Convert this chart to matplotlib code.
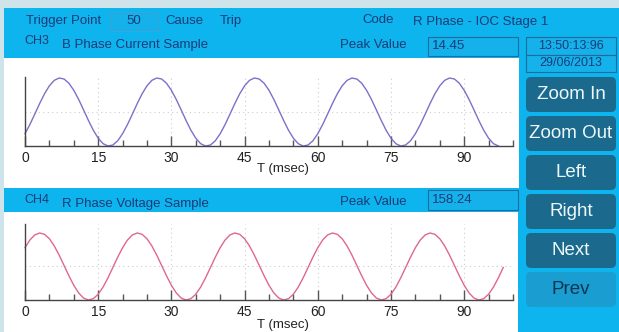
import numpy as np
import matplotlib
matplotlib.use("Agg")
import matplotlib.pyplot as plt
from matplotlib.patches import Rectangle, FancyBboxPatch
from matplotlib.ticker import MultipleLocator

plt.rcParams['font.family'] = ['Liberation Sans', 'DejaVu Sans']

# --- screen texts ---
trigger_point = "50"
cause = "Trip"
code = "R Phase - IOC Stage 1"
time_stamp = "13:50:13:96"
date_stamp = "29/06/2013"
buttons = ["Zoom In", "Zoom Out", "Left", "Right", "Next", "Prev"]

ch3_name = "CH3"
ch3_title = "B Phase Current Sample"
ch3_peak = "14.45"
ch4_name = "CH4"
ch4_title = "R Phase Voltage Sample"
ch4_peak = "158.24"

x_ticks = [0, 15, 30, 45, 60, 75, 90]
sample_ms = 1.0  # one sample per msec

# samples (1 ms apart)
current = [
    -9.20, -5.32, -0.91, 3.59, 7.74, 11.13, 13.44, 14.42, 14.00, 12.20,
    9.20, 5.32, 0.91, -3.59, -7.74, -11.13, -13.44, -14.42, -14.00, -12.20,
    -9.20, -5.32, -0.91, 3.59, 7.74, 11.13, 13.44, 14.42, 14.00, 12.20,
    9.20, 5.32, 0.91, -3.59, -7.74, -11.13, -13.44, -14.42, -14.00, -12.20,
    -9.20, -5.32, -0.91, 3.59, 7.74, 11.13, 13.44, 14.42, 14.00, 12.20,
    9.20, 5.32, 0.91, -3.59, -7.74, -11.13, -13.44, -14.42, -14.00, -12.20,
    -9.20, -5.32, -0.91, 3.59, 7.74, 11.13, 13.44, 14.42, 14.00, 12.20,
    9.20, 5.32, 0.91, -3.59, -7.74, -11.13, -13.44, -14.42, -14.00, -12.20,
    -9.20, -5.32, -0.91, 3.59, 7.74, 11.13, 13.44, 14.42, 14.00, 12.20,
    9.20, 5.32, 0.91, -3.59, -7.74, -11.13, -13.44, -14.42,
]
voltage = [
    88.9, 125.0, 148.9, 158.2, 151.9, 130.9, 97.0, 53.6, 4.9, -44.1,
    -88.9, -125.0, -148.9, -158.2, -151.9, -130.9, -97.0, -53.6, -4.9, 44.1,
    88.9, 125.0, 148.9, 158.2, 151.9, 130.9, 97.0, 53.6, 4.9, -44.1,
    -88.9, -125.0, -148.9, -158.2, -151.9, -130.9, -97.0, -53.6, -4.9, 44.1,
    88.9, 125.0, 148.9, 158.2, 151.9, 130.9, 97.0, 53.6, 4.9, -44.1,
    -88.9, -125.0, -148.9, -158.2, -151.9, -130.9, -97.0, -53.6, -4.9, 44.1,
    88.9, 125.0, 148.9, 158.2, 151.9, 130.9, 97.0, 53.6, 4.9, -44.1,
    -88.9, -125.0, -148.9, -158.2, -151.9, -130.9, -97.0, -53.6, -4.9, 44.1,
    88.9, 125.0, 148.9, 158.2, 151.9, 130.9, 97.0, 53.6, 4.9, -44.1,
    -88.9, -125.0, -148.9, -158.2, -151.9, -130.9, -97.0, -53.6, -4.9,
]

OUTER = '#cfe3ea'
BLUE = '#0db4ee'
BOXFILL = '#14b1ea'
NAVY = '#1b3c78'
BTN = '#1b6a8e'
BTN_OFF = '#1a9dd0'

fig = plt.figure(figsize=(6.19, 3.32), dpi=100)
fig.patch.set_facecolor(OUTER)

# background layer in pixel units
bg = fig.add_axes([0, 0, 1, 1])
bg.set_xlim(0, 619)
bg.set_ylim(332, 0)
bg.axis('off')

bg.add_patch(Rectangle((4, 8), 615, 324, fc=BLUE, ec='none'))
bg.add_patch(Rectangle((4, 58), 515, 130, fc='white', ec='none'))
bg.add_patch(Rectangle((4, 212), 514, 120, fc='white', ec='none'))


def box(x, y, w, h, ec='#1f6c9c'):
    bg.add_patch(Rectangle((x, y), w, h, fc=BOXFILL, ec=ec, lw=0.8))


def label(x, y, s, **kw):
    kw.setdefault('fontsize', 9.5)
    kw.setdefault('color', NAVY)
    kw.setdefault('va', 'center')
    bg.text(x, y, s, **kw)


# header row
label(26, 21, "Trigger Point")
box(110, 12, 48, 19, ec='#3aa6da')
label(134, 21, trigger_point, ha='center')
label(165, 21, "Cause")
label(220, 21, cause)
label(362, 20, "Code")
label(413, 22, code)

# channel 3 header
label(24, 40.5, ch3_name, fontsize=9)
label(62, 45, ch3_title)
label(340, 45, "Peak Value")
box(428, 37, 90, 19)
label(432, 46, ch3_peak)

# time / date
box(526, 37, 90, 18)
label(571, 46, time_stamp, ha='center', fontsize=9)
box(526, 55, 90, 17)
label(571, 63.5, date_stamp, ha='center', fontsize=9)

# channel 4 header
label(24, 200, ch4_name, fontsize=9)
label(62, 203.5, ch4_title)
label(340, 202, "Peak Value")
box(428, 190, 90, 20)
label(432, 200, ch4_peak)

# side buttons
for i, name in enumerate(buttons):
    top = 77 + i * 39
    off = name == "Prev"
    bg.add_patch(FancyBboxPatch((526, top), 90, 35,
                                boxstyle='round,pad=0,rounding_size=5',
                                fc=BTN_OFF if off else BTN, ec='none',
                                zorder=2))
    bg.text(571, top + 17.5, name, ha='center', va='center', fontsize=13.5,
            color='#0f3553' if off else '#eef7fa', zorder=5)


def style(ax, label_y):
    ax.set_facecolor('none')
    for s in ['top', 'right']:
        ax.spines[s].set_visible(False)
    for s in ['left', 'bottom']:
        ax.spines[s].set_color('#444444')
        ax.spines[s].set_linewidth(1)
    ax.set_xlim(0, 100)
    ax.set_xticks(x_ticks)
    ax.xaxis.set_minor_locator(MultipleLocator(5))
    ax.tick_params(axis='x', which='major', direction='in', length=7,
                   width=1, color='#555555', labelsize=10, pad=3.5,
                   labelcolor='#222222')
    ax.tick_params(axis='x', which='minor', direction='in', length=4,
                   width=1, color='#555555')
    ax.set_yticks([0])
    ax.tick_params(axis='y', length=0, labelleft=False)
    ax.grid(True, which='major', ls=(0, (1, 3)), color='#cccccc', lw=0.8)
    ax.set_xlabel('T (msec)', fontsize=9.5, color='#222222')
    ax.xaxis.set_label_coords(0.529, label_y)


ax1 = fig.add_axes([25 / 619, 1 - 146 / 332, 488 / 619, 69 / 332])
t1 = np.arange(len(current)) * sample_ms
ax1.plot(t1, current, color='#7a72c8', lw=1.0, clip_on=False)
lo, hi = min(current), max(current)
ax1.set_ylim(lo, lo + (hi - lo) * 1.015)
style(ax1, -0.24)

ax2 = fig.add_axes([25 / 619, 1 - 300 / 332, 488 / 619, 76 / 332])
t2 = np.arange(len(voltage)) * sample_ms
ax2.plot(t2, voltage, color='#e0688a', lw=1.0, clip_on=False)
lo, hi = min(voltage), max(voltage)
ax2.set_ylim(lo, lo + (hi - lo) * 1.134)
style(ax2, -0.245)

fig.savefig('out.png', dpi=100, facecolor=fig.get_facecolor())
